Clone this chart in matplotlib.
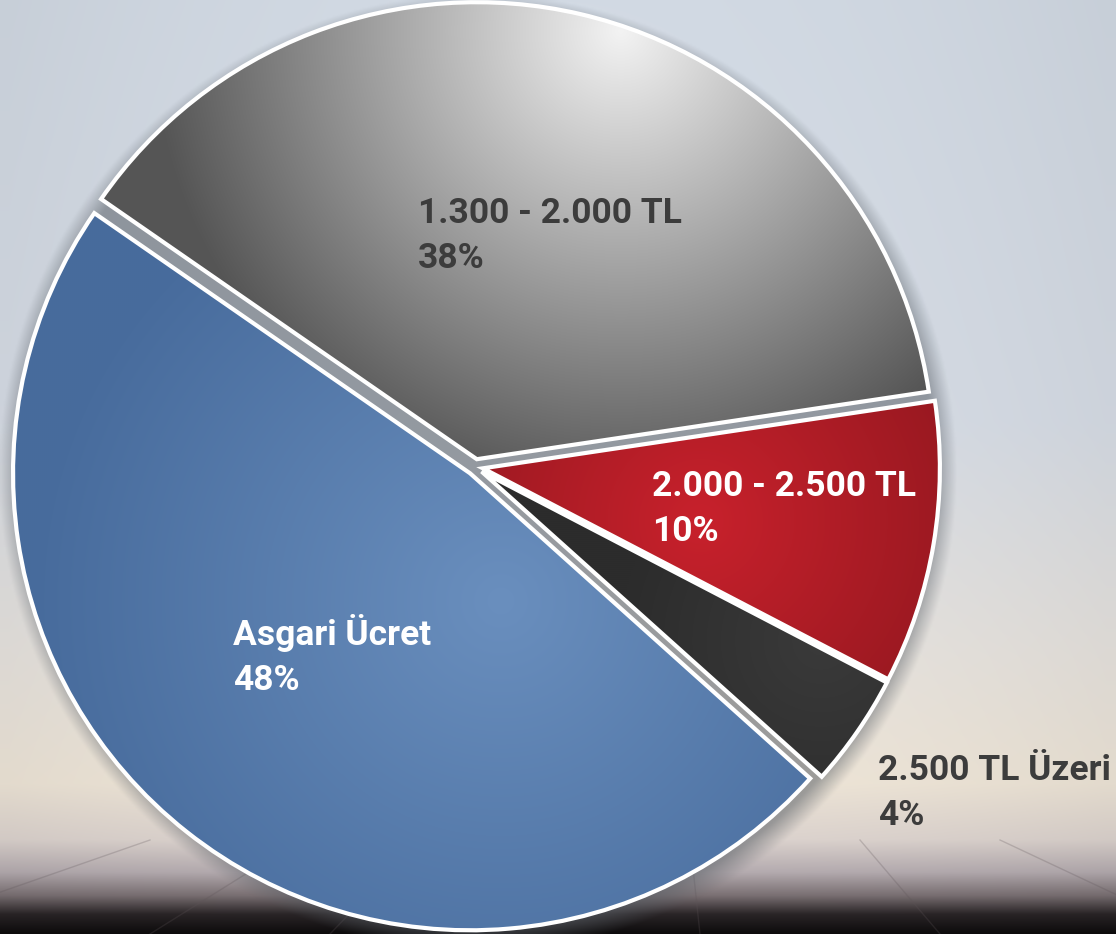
import matplotlib
matplotlib.use("Agg")
import matplotlib.pyplot as plt
import numpy as np
from matplotlib.colors import to_rgb

W, H = 1116, 934

# slices in drawing order (counter-clockwise from the right)
categories = ["1.300 - 2.000 TL", "Asgari Ücret", "2.500 TL Üzeri", "2.000 - 2.500 TL"]
shares = [38, 48, 4, 10]
pct_labels = ["38%", "48%", "4%", "10%"]

# gradient colours per slice: (light, dark)
GRAD = [("#f3f3f3", "#555555"), ("#6a8fbe", "#476b9c"), ("#3a3a3a", "#2c2c2c"), ("#c8212c", "#961820")]
LABEL_COLOR = ["#3c3c3c", "white", "#3c3c3c", "white"]
# gradient centres (image px) and spread
GRAD_C = [(620, 30, 470), (500, 600, 470), (820, 640, 200), (700, 520, 280)]
# label anchor (image px, top-left)
LABEL_POS = [(418, 197), (233, 614), (878, 754), (652, 470)]

CX, CY, R = 475, 467, 457
EXPL = 8


def img_y(y):
    return H - y


fig = plt.figure(figsize=(W / 100, H / 100), dpi=100)
ax = fig.add_axes([0, 0, 1, 1])

# background: sky -> cream -> wooden floor
stops = [(0.0, "#d2dae4"), (0.45, "#d8dee7"), (0.70, "#e8e4df"),
         (0.84, "#efe6d8"), (0.90, "#ddd4cf"), (0.935, "#b5acb0"),
         (0.96, "#7a7073"), (0.98, "#2a2527"), (1.0, "#0e0c0d")]
ys = np.linspace(0, 1, 400)
cols = np.zeros((400, 1, 3))
for c in range(3):
    cols[:, 0, c] = np.interp(ys, [s[0] for s in stops], [to_rgb(s[1])[c] for s in stops])
bg = np.repeat(cols, 60, axis=1)
xx = np.linspace(-1, 1, 60)
vign = 1 - 0.05 * xx ** 2
bg = bg * vign[None, :, None]
ax.imshow(bg, extent=(0, W, 0, H), origin="upper", aspect="auto", zorder=0,
          interpolation="bilinear")

# floor boards
for x0, x1 in [(-120, 150), (150, 300), (330, 420), (700, 690), (940, 860), (1200, 1000)]:
    ax.plot([x1, x0], [img_y(840), img_y(934)], color="#5e5458", lw=1, alpha=0.25, zorder=0.5)

# soft shadow behind the pie
gx, gy = np.meshgrid(np.arange(0, W, 2), np.arange(0, H, 2))
d = np.hypot(gx - (CX + 2), gy - (CY + 5))
a = np.clip(1 - (d - R) / 22, 0, 1) * 0.55
sh = np.zeros(gx.shape + (4,))
sh[..., :3] = to_rgb("#5b6168")
sh[..., 3] = a
ax.imshow(sh, extent=(0, W, 0, H), origin="upper", aspect="auto", zorder=1,
          interpolation="bilinear")

wedges, _ = ax.pie(shares, startangle=8.5, counterclock=True,
                   center=(CX, img_y(CY)), radius=R, explode=[EXPL] * 4,
                   wedgeprops=dict(edgecolor="none", linewidth=0))

# gradient fills clipped to each wedge
for w, (c_light, c_dark), (gx0, gy0, spread) in zip(wedges, GRAD, GRAD_C):
    w.set_facecolor("none")
    t = np.clip(np.hypot(gx - gx0, gy - gy0) / spread, 0, 1)
    fill = np.zeros(gx.shape + (3,))
    for c in range(3):
        fill[..., c] = to_rgb(c_light)[c] * (1 - t) + to_rgb(c_dark)[c] * t
    im = ax.imshow(fill, extent=(0, W, 0, H), origin="upper", aspect="auto",
                   zorder=2, interpolation="bilinear")
    im.set_clip_path(w)
    w.set_zorder(3)
    w.set_edgecolor("white")
    w.set_linewidth(3)

for name, pct, col, (lx, ly) in zip(categories, pct_labels, LABEL_COLOR, LABEL_POS):
    ax.text(lx, img_y(ly), f"{name}\n{pct}", ha="left", va="top", color=col,
            fontsize=25.5, fontweight="bold", family=["Roboto", "DejaVu Sans"],
            linespacing=1.45, zorder=5)

ax.set_xlim(0, W)
ax.set_ylim(0, H)
ax.set_aspect("auto")
ax.axis("off")
fig.savefig("out.png", dpi=100)
